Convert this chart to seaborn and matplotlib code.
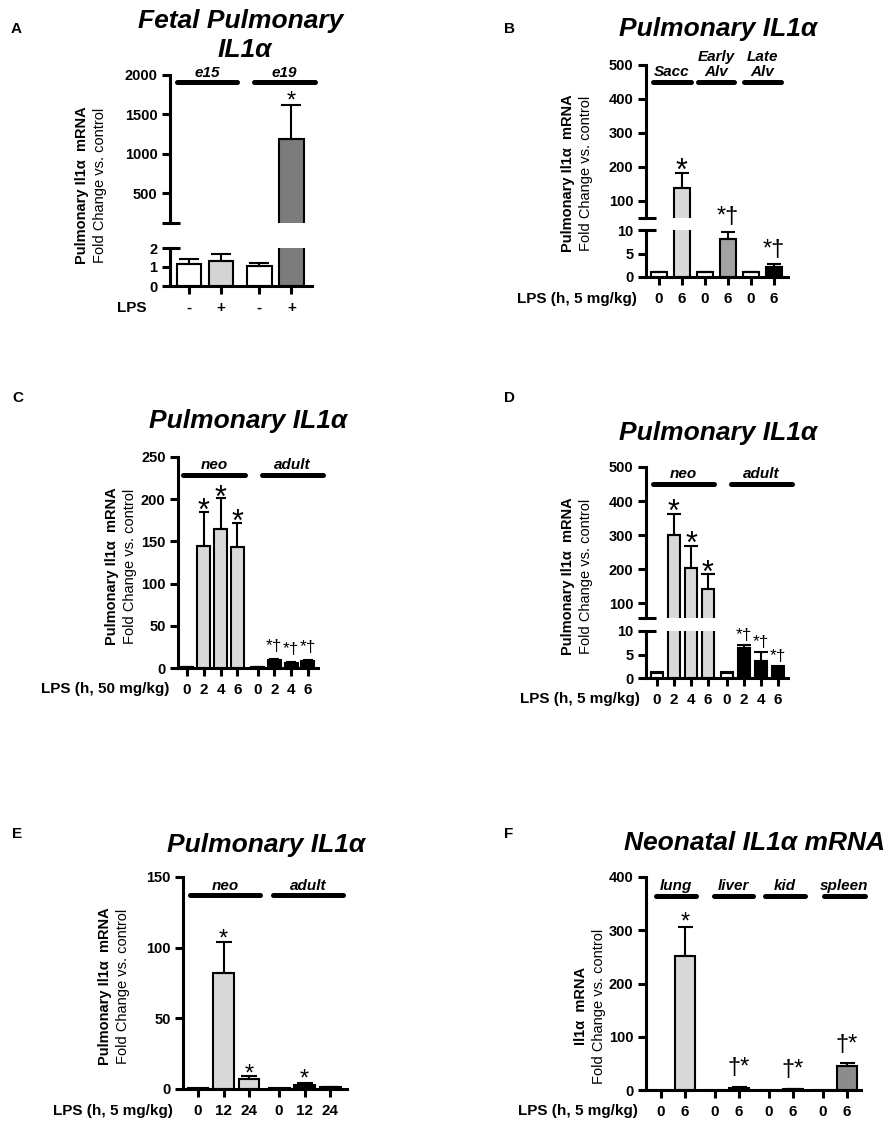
import numpy as np
import pandas as pd
import matplotlib
matplotlib.use('Agg')
import matplotlib.pyplot as plt
import seaborn as sns

sns.set_theme(style='ticks')
plt.rcParams['font.family'] = ['Liberation Sans', 'DejaVu Sans']
plt.rcParams['font.weight'] = 'bold'
for k in ['text.color', 'axes.labelcolor', 'axes.edgecolor', 'xtick.color', 'ytick.color']:
    plt.rcParams[k] = 'black'

# ---- data ----
# A: fetal lung, e15 / e19
A_ticks = ['-', '+', '-', '+']
A_groups = ['e15', 'e19']
A_sizes = [2, 2]
A_vals = [1.15, 1.3, 1.05, 1185]
A_err = [0.27, 0.36, 0.15, 435]
A_colors = ['white', '#d4d4d4', 'white', '#7c7c7c']
A_marks = ['', '', '', '*']

# B: developmental windows, 5 mg/kg
B_ticks = ['0', '6', '0', '6', '0', '6']
B_groups = ['Sacc', 'Early\nAlv', 'Late\nAlv']
B_sizes = [2, 2, 2]
B_vals = [1.0, 138, 1.0, 8.0, 1.0, 2.1]
B_err = [0.15, 44, 0.15, 1.6, 0.15, 0.6]
B_colors = ['white', '#d9d9d9', 'white', '#a3a3a3', 'white', 'black']
B_marks = ['', '*', '', '*†', '', '*†']

# C: neo vs adult, 50 mg/kg
C_ticks = ['0', '2', '4', '6', '0', '2', '4', '6']
C_groups = ['neo', 'adult']
C_sizes = [4, 4]
C_vals = [1.0, 145, 165, 143, 1.0, 9.0, 6.0, 8.0]
C_err = [0.2, 40, 36, 29, 0.2, 1.5, 1.0, 1.5]
C_colors = ['white', '#d9d9d9', '#d9d9d9', '#d9d9d9', 'white', 'black', 'black', 'black']
C_marks = ['', '*', '*', '*', '', '*†', '*†', '*†']

# D: neo vs adult, 5 mg/kg
D_ticks = ['0', '2', '4', '6', '0', '2', '4', '6']
D_groups = ['neo', 'adult']
D_sizes = [4, 4]
D_vals = [1.0, 300, 202, 142, 1.0, 6.4, 3.6, 2.1]
D_err = [0.2, 62, 65, 42, 0.2, 0.6, 1.9, 0.5]
D_colors = ['white', '#d9d9d9', '#d9d9d9', '#d9d9d9', 'white', 'black', 'black', 'black']
D_marks = ['', '*', '*', '*', '', '*†', '*†', '*†']

# E: later time points
E_ticks = ['0', '12', '24', '0', '12', '24']
E_groups = ['neo', 'adult']
E_sizes = [3, 3]
E_vals = [0.5, 82, 7.0, 0.5, 2.8, 1.3]
E_err = [0.0, 22, 2.2, 0.0, 1.4, 0.3]
E_colors = ['white', '#d9d9d9', '#d9d9d9', 'white', 'black', 'black']
E_marks = ['', '*', '*', '', '*', '']

# F: neonatal organs
F_ticks = ['0', '6', '0', '6', '0', '6', '0', '6']
F_groups = ['lung', 'liver', 'kid', 'spleen']
F_sizes = [2, 2, 2, 2]
F_vals = [0.5, 251, 0.5, 4.0, 0.3, 2.0, 0.3, 45]
F_err = [0.0, 55, 0.0, 1.5, 0.0, 0.5, 0.0, 6]
F_colors = ['white', '#d9d9d9', 'white', '#bdbdbd', 'white', '#bdbdbd', 'white', '#8c8c8c']
F_marks = ['', '*', '', '†*', '', '†*', '', '†*']

# ---- layout (pixels) ----
W, H = 893, 1124
fig = plt.figure(figsize=(W / 100, H / 100), dpi=100)
LW = 2.2


def fx(x):
    return x / W


def fy(y):
    return 1 - y / H


def add_ax(left, right, top, bottom):
    return fig.add_axes([fx(left), fy(bottom), (right - left) / W, (bottom - top) / H])


def positions(sizes, gap):
    pos, i = [], 0
    for g, n in enumerate(sizes):
        for k in range(n):
            pos.append(i + g * gap)
            i += 1
    return pos


def style(ax, xlim, ylim, yticks, show_x=True):
    sns.despine(ax=ax)
    ax.set_xlim(xlim)
    ax.set_ylim(ylim)
    ax.set_yticks(yticks)
    ax.set_xlabel('')
    ax.set_ylabel('')
    ax.tick_params(axis='y', length=6, width=LW, pad=3, labelsize=10.5)
    if show_x:
        ax.tick_params(axis='x', length=6, width=LW, pad=4.5, labelsize=11)
    else:
        ax.spines['bottom'].set_visible(False)
        ax.tick_params(axis='x', bottom=False, labelbottom=False)
    for s in ax.spines.values():
        s.set_linewidth(LW)
    ax.patch.set_alpha(0)


def bars(ax, pos, vals, errs, colors, width, capsize):
    df = pd.DataFrame({'pos': pos, 'val': vals, 'bar': ['b%d' % i for i in range(len(vals))]})
    sns.barplot(data=df, x='pos', y='val', hue='bar', palette=dict(zip(df['bar'], colors)),
                native_scale=True, width=width, errorbar=None, legend=False, saturation=1,
                edgecolor='black', linewidth=1.5, ax=ax)
    e = np.array(errs, dtype=float)
    m = e > 0
    ax.errorbar(np.array(pos)[m], np.array(vals)[m], yerr=[np.zeros(m.sum()), e[m]], fmt='none',
                ecolor='black', elinewidth=1.5, capsize=capsize, capthick=1.5, zorder=3)


def mark(ax, x, y, s, fs, gap):
    if not s:
        return
    dy = gap * 0.72 + (0.16 * fs if '†' in s else -0.33 * fs)
    ax.annotate(s, (x, y), xytext=(0, dy), textcoords='offset points', ha='center',
                va='baseline', fontsize=fs, fontweight='normal', annotation_clip=False)


def panel(lay, sizes, vals, errs, colors, ticks, marks, groups):
    sp, b0 = lay['sp'], lay['bar0']
    pos = positions(sizes, lay['gap'])
    xlim = ((lay['left'] - b0) / sp, (lay['right'] - b0) / sp)
    if 'upper' in lay:
        up = add_ax(lay['left'], lay['right'], *lay['upper'])
        low = add_ax(lay['left'], lay['right'], *lay['lower'])
        for ax in (up, low):
            bars(ax, pos, vals, errs, colors, lay['width'], lay['cap'])
        style(up, xlim, lay['uylim'], lay['uticks'], show_x=False)
        style(low, xlim, lay['ylim'], lay['yticks'])
        # break marks
        up.plot([xlim[0] - 8 / sp, xlim[0] + 10 / sp], [lay['uylim'][0]] * 2, color='black',
                lw=LW, clip_on=False, solid_capstyle='butt')
        low.plot([xlim[0], xlim[0] + 10 / sp], [lay['ylim'][1]] * 2, color='black',
                 lw=LW, clip_on=False, solid_capstyle='butt')
        gax = up
    else:
        low = add_ax(lay['left'], lay['right'], *lay['single'])
        bars(low, pos, vals, errs, colors, lay['width'], lay['cap'])
        style(low, xlim, lay['ylim'], lay['yticks'])
        up = low
        gax = low
    low.set_xticks(pos)
    low.set_xticklabels(ticks)
    # significance marks
    for p, v, e, s, fs, g in zip(pos, vals, errs, marks, lay['mfs'], lay['mgap']):
        top = v + e
        ax = up if top > lay['ylim'][1] else low
        mark(ax, p, top, s, fs, g)
    # group lines and labels (baseline of the last line sits at label_y)
    for name, (x0, x1) in zip(groups, lay['spans']):
        gax.plot([x0, x1], [lay['line_y']] * 2, color='black', lw=3.6,
                 solid_capstyle='round', clip_on=False, zorder=5)
        gax.text((x0 + x1) / 2, lay['label_y'], name, ha='center', va='baseline',
                 fontsize=11, fontstyle='italic', fontweight='bold', linespacing=1.05)
    # y label (two lines, different weights)
    bx, nx, cy = lay['ylab']
    fig.text(fx(bx), fy(cy), lay['ylab_text'], rotation=90, ha='center', va='center',
             fontsize=10.5, fontweight='bold')
    fig.text(fx(nx), fy(cy), 'Fold Change vs. control', rotation=90, ha='center',
             va='center', fontsize=10.5, fontweight='normal')
    # treatment label
    lx, ly, lt = lay['lps']
    fig.text(fx(lx), fy(ly), lt, ha='right', va='center_baseline', fontsize=11,
             fontweight='bold')
    # panel letter and title
    px_, py_, letter = lay['letter']
    fig.text(fx(px_), fy(py_), letter, ha='left', va='baseline', fontsize=11, fontweight='bold')
    for tx, ty, tt in lay['title']:
        fig.text(fx(tx), fy(ty), tt, ha='center', va='baseline', fontsize=19,
                 fontstyle='italic', fontweight='bold')


PUL = 'Pulmonary Il1α  mRNA'

lay_A = dict(left=170, right=312, bar0=189, sp=32, gap=0.2, width=0.78, cap=7,
             upper=(75, 223), uylim=(119, 2000), uticks=[500, 1000, 1500, 2000],
             lower=(248, 286), ylim=(0, 2), yticks=[0, 1, 2],
             mfs=[17] * 4, mgap=[5] * 4,
             spans=[(-0.38, 1.5), (2.03, 3.94)], line_y=1911, label_y=1975,
             ylab=(82, 100, 185), ylab_text=PUL, lps=(147, 307, 'LPS'),
             letter=(11, 33, 'A'),
             title=[(241, 28, 'Fetal Pulmonary'), (245, 57, 'IL1α')])

lay_B = dict(left=646, right=788, bar0=659, sp=23, gap=0.0, width=0.7, cap=5,
             upper=(65, 218), uylim=(50, 500), uticks=[100, 200, 300, 400, 500],
             lower=(230, 277), ylim=(0, 10), yticks=[0, 5, 10],
             mfs=[22, 22, 22, 17, 22, 17], mgap=[3, 3, 3, 5, 3, 5],
             spans=[(-0.26, 1.39), (1.7, 3.26), (3.7, 5.3)], line_y=450, label_y=468,
             ylab=(568, 586, 173), ylab_text=PUL, lps=(637, 297, 'LPS (h, 5 mg/kg)'),
             letter=(504, 33, 'B'), title=[(718, 36, 'Pulmonary IL1α')])

lay_C = dict(left=178, right=318, bar0=187, sp=16.8, gap=0.2, width=0.77, cap=3.6,
             single=(457, 668), ylim=(0, 250), yticks=[0, 50, 100, 150, 200, 250],
             mfs=[22, 22, 22, 22, 12.5, 12.5, 12.5, 12.5], mgap=[2, 2, 2, 2, 5, 5, 5, 5],
             spans=[(-0.24, 3.45), (4.46, 8.1)], line_y=228.7, label_y=236,
             ylab=(112, 130, 566), ylab_text=PUL, lps=(169, 688, 'LPS (h, 50 mg/kg)'),
             letter=(12, 402, 'C'), title=[(248, 428, 'Pulmonary IL1α')])

lay_D = dict(left=646, right=788, bar0=657, sp=17, gap=0.12, width=0.72, cap=5,
             upper=(467, 618), uylim=(56, 500), uticks=[100, 200, 300, 400, 500],
             lower=(631, 678), ylim=(0, 10), yticks=[0, 5, 10],
             mfs=[22, 22, 22, 22, 12.5, 12.5, 12.5, 12.5], mgap=[3, 3, 3, 3, 2, 2, 2, 2],
             spans=[(-0.24, 3.35), (4.35, 7.94)], line_y=450, label_y=468,
             ylab=(568, 586, 576), ylab_text=PUL, lps=(640, 698, 'LPS (h, 5 mg/kg)'),
             letter=(504, 402, 'D'), title=[(718, 440, 'Pulmonary IL1α')])

lay_E = dict(left=183, right=347, bar0=198, sp=25.5, gap=0.18, width=0.82, cap=6,
             single=(877, 1089), ylim=(0, 150), yticks=[0, 50, 100, 150],
             mfs=[17] * 6, mgap=[4, 4, 3, 4, 5, 4],
             spans=[(-0.31, 2.43), (2.94, 5.69)], line_y=137, label_y=140.8,
             ylab=(105, 123, 986), ylab_text=PUL, lps=(173, 1109, 'LPS (h, 5 mg/kg)'),
             letter=(12, 838, 'E'), title=[(266, 852, 'Pulmonary IL1α')])

lay_F = dict(left=646, right=861, bar0=661, sp=24, gap=0.25, width=0.8, cap=5.4,
             single=(877, 1090), ylim=(0, 400), yticks=[0, 100, 200, 300, 400],
             mfs=[17] * 8, mgap=[6, 6, 9, 9, 9, 9, 8, 8],
             spans=[(-0.21, 1.46), (2.21, 3.83), (4.33, 6.0), (6.79, 8.5)],
             line_y=364, label_y=375,
             ylab=(581, 599, 1006), ylab_text='Il1α  mRNA', lps=(638, 1110, 'LPS (h, 5 mg/kg)'),
             letter=(504, 838, 'F'), title=[(754, 850, 'Neonatal IL1α mRNA')])

panel(lay_A, A_sizes, A_vals, A_err, A_colors, A_ticks, A_marks, A_groups)
panel(lay_B, B_sizes, B_vals, B_err, B_colors, B_ticks, B_marks, B_groups)
panel(lay_C, C_sizes, C_vals, C_err, C_colors, C_ticks, C_marks, C_groups)
panel(lay_D, D_sizes, D_vals, D_err, D_colors, D_ticks, D_marks, D_groups)
panel(lay_E, E_sizes, E_vals, E_err, E_colors, E_ticks, E_marks, E_groups)
panel(lay_F, F_sizes, F_vals, F_err, F_colors, F_ticks, F_marks, F_groups)

fig.savefig('out.png', dpi=100)
